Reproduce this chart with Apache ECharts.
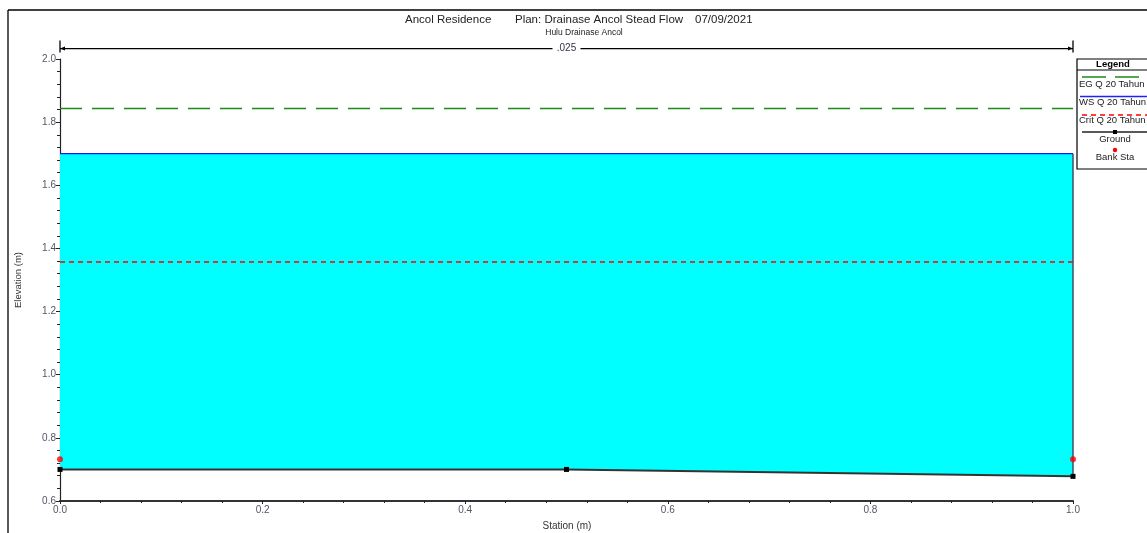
<!DOCTYPE html>
<html>
<head>
<meta charset="utf-8">
<script src="https://cdn.jsdelivr.net/npm/echarts@6/dist/echarts.min.js"></script>
<style>
html,body{margin:0;padding:0;background:#fff;}
#main{width:1147px;height:533px;}
</style>
</head>
<body>
<div id="main"></div>
<script>
// ---- data ----
const groundStation = [0, 0.5, 1.0];
const groundElev = [0.700, 0.700, 0.678];
const wsStation = [0, 1.0];
const wsElev = [1.700, 1.700];
const egElev = [1.843, 1.843];
const critElev = [1.357, 1.357];
const bankStation = [0, 1.0];
const bankElev = [0.732, 0.732];
const roughStation = [0, 1.0];
const roughElev = 2.033;
const roughLabel = '.025';
const xTicks = [0, 0.2, 0.4, 0.6, 0.8, 1.0];
const yTicks = [0.6, 0.8, 1.0, 1.2, 1.4, 1.6, 1.8, 2.0];

const FONT = '"Liberation Sans", Arial, sans-serif';
const pairs = (xs, ys) => xs.map((x, i) => [x, ys[i]]);
const groundData = pairs(groundStation, groundElev);

const chart = echarts.init(document.getElementById('main'), null, {renderer: 'canvas'});

const lx = 1077, ly = 59;
const LF = '9.5px ' + FONT;
const legend = [
  {type: 'rect', shape: {x: lx, y: ly, width: 90, height: 110}, style: {fill: '#fff', stroke: '#000', lineWidth: 1.2}},
  {type: 'text', x: 1113, y: 59, style: {text: 'Legend', font: 'bold 9.5px ' + FONT, fill: '#000', textAlign: 'center'}},
  {type: 'line', shape: {x1: lx, y1: 70, x2: 1147, y2: 70}, style: {stroke: '#000', lineWidth: 1}},
  {type: 'line', shape: {x1: 1082, y1: 77, x2: 1147, y2: 77}, style: {stroke: '#1a8a1a', lineWidth: 1.5, lineDash: [24, 9]}},
  {type: 'text', x: 1079, y: 79, style: {text: 'EG Q 20 Tahun', font: LF, fill: '#222'}},
  {type: 'line', shape: {x1: 1080, y1: 96.5, x2: 1147, y2: 96.5}, style: {stroke: '#2020ff', lineWidth: 1.3}},
  {type: 'text', x: 1079, y: 97, style: {text: 'WS Q 20 Tahun', font: LF, fill: '#222'}},
  {type: 'line', shape: {x1: 1082, y1: 115, x2: 1147, y2: 115}, style: {stroke: '#ff0000', lineWidth: 1.3, lineDash: [5, 4]}},
  {type: 'text', x: 1079, y: 115, style: {text: 'Crit Q 20 Tahun', font: LF, fill: '#222'}},
  {type: 'line', shape: {x1: 1082, y1: 132, x2: 1147, y2: 132}, style: {stroke: '#222', lineWidth: 1.3}},
  {type: 'rect', shape: {x: 1113, y: 130, width: 4, height: 4}, style: {fill: '#000'}},
  {type: 'text', x: 1115, y: 134, style: {text: 'Ground', font: LF, fill: '#222', textAlign: 'center'}},
  {type: 'circle', shape: {cx: 1115, cy: 150, r: 2.2}, style: {fill: '#ff0000'}},
  {type: 'text', x: 1115, y: 152, style: {text: 'Bank Sta', font: LF, fill: '#222', textAlign: 'center'}}
];

const option = {
  animation: false,
  backgroundColor: '#fff',
  textStyle: {fontFamily: FONT},
  grid: {left: 60, right: 74, top: 59, bottom: 32, containLabel: false},
  graphic: [
    {type: 'line', shape: {x1: 8, y1: 10, x2: 1147, y2: 10}, style: {stroke: '#000', lineWidth: 1.3}},
    {type: 'line', shape: {x1: 8, y1: 10, x2: 8, y2: 533}, style: {stroke: '#000', lineWidth: 1.3}},
    {type: 'text', x: 405, y: 14, style: {text: 'Ancol Residence', font: '11.5px ' + FONT, fill: '#222'}},
    {type: 'text', x: 515, y: 14, style: {text: 'Plan: Drainase Ancol Stead Flow', font: '11.5px ' + FONT, fill: '#222'}},
    {type: 'text', x: 695, y: 14, style: {text: '07/09/2021', font: '11.5px ' + FONT, fill: '#222'}},
    {type: 'text', x: 584, y: 28, style: {text: 'Hulu Drainase Ancol', font: '8.5px ' + FONT, fill: '#222', textAlign: 'center'}},
    {type: 'text', x: 567, y: 521, style: {text: 'Station (m)', font: '10px ' + FONT, fill: '#333', textAlign: 'center'}},
    {type: 'text', x: 18, y: 280, rotation: Math.PI / 2, style: {text: 'Elevation (m)', font: '9.5px ' + FONT, fill: '#333', textAlign: 'center', textVerticalAlign: 'middle'}}
  ].concat(legend),
  xAxis: {
    type: 'value', min: 0, max: 1, interval: 0.2,
    axisLine: {lineStyle: {color: '#333', width: 2}},
    axisTick: {show: true, length: 3, lineStyle: {color: '#222', width: 1}},
    minorTick: {show: true, splitNumber: 5, length: 2, lineStyle: {color: '#222', width: 1}},
    splitLine: {show: false},
    axisLabel: {color: '#556', fontSize: 10, margin: 4, formatter: v => v.toFixed(1), fontFamily: FONT}
  },
  yAxis: {
    type: 'value', min: 0.6, max: 2.0, interval: 0.2,
    axisLine: {show: true, lineStyle: {color: '#222', width: 1.2}},
    axisTick: {show: true, length: 4, lineStyle: {color: '#222', width: 1}},
    minorTick: {show: true, splitNumber: 5, length: 3, lineStyle: {color: '#222', width: 1}},
    splitLine: {show: false},
    axisLabel: {color: '#556', fontSize: 10, margin: 4, formatter: v => v.toFixed(1), fontFamily: FONT}
  },
  series: [
    {
      name: 'water', type: 'custom', z: 1, clip: false,
      data: [0],
      renderItem: function (params, api) {
        const top = pairs(wsStation, wsElev).map(p => api.coord(p));
        const bottom = groundData.slice().reverse().map(p => api.coord(p));
        return {type: 'polygon', shape: {points: top.concat(bottom)}, style: {fill: '#00ffff', stroke: null}};
      }
    },
    {
      name: 'wall', type: 'line', z: 2, symbol: 'none',
      data: [groundData[groundData.length - 1], [wsStation[1], wsElev[1]]],
      lineStyle: {color: '#3c4f6a', width: 1.5}
    },
    {
      name: 'EG Q 20 Tahun', type: 'line', z: 3, symbol: 'none',
      data: pairs(wsStation, egElev),
      lineStyle: {color: '#1a8a1a', width: 1.5, type: [22, 10]}
    },
    {
      name: 'WS Q 20 Tahun', type: 'line', z: 3, symbol: 'none',
      data: pairs(wsStation, wsElev),
      lineStyle: {color: '#1a1aff', width: 1.3}
    },
    {
      name: 'Crit Q 20 Tahun', type: 'line', z: 3, symbol: 'none',
      data: pairs(wsStation, critElev),
      lineStyle: {color: '#ff0000', width: 1.3, type: [5, 4]}
    },
    {
      name: 'Ground', type: 'line', z: 4, symbol: 'rect', symbolSize: 5, showAllSymbol: true,
      data: groundData,
      lineStyle: {color: '#333', width: 2},
      itemStyle: {color: '#000'}
    },
    {
      name: 'Bank Sta', type: 'scatter', z: 5, symbol: 'circle', symbolSize: 6,
      data: pairs(bankStation, bankElev),
      itemStyle: {color: '#ff0000'}
    },
    {
      name: 'roughness', type: 'custom', z: 6, clip: false,
      data: [0],
      renderItem: function (params, api) {
        const a = api.coord([roughStation[0], roughElev]);
        const b = api.coord([roughStation[1], roughElev]);
        const mid = (a[0] + b[0]) / 2;
        const st = {stroke: '#000', lineWidth: 1.3};
        return {
          type: 'group',
          children: [
            {type: 'line', shape: {x1: a[0], y1: a[1], x2: b[0], y2: b[1]}, style: st},
            {type: 'line', shape: {x1: a[0], y1: a[1] - 8, x2: a[0], y2: a[1] + 4}, style: st},
            {type: 'line', shape: {x1: b[0], y1: b[1] - 8, x2: b[0], y2: b[1] + 4}, style: st},
            {type: 'polygon', shape: {points: [[a[0], a[1]], [a[0] + 5, a[1] - 2], [a[0] + 5, a[1] + 2]]}, style: {fill: '#000'}},
            {type: 'polygon', shape: {points: [[b[0], b[1]], [b[0] - 5, b[1] - 2], [b[0] - 5, b[1] + 2]]}, style: {fill: '#000'}},
            {type: 'rect', shape: {x: mid - 14, y: a[1] - 5, width: 28, height: 10}, style: {fill: '#fff'}},
            {type: 'text', x: mid, y: a[1], style: {text: roughLabel, font: '10px ' + FONT, fill: '#334', textAlign: 'center', textVerticalAlign: 'middle'}}
          ]
        };
      }
    }
  ]
};
chart.setOption(option);
</script>
</body>
</html>
